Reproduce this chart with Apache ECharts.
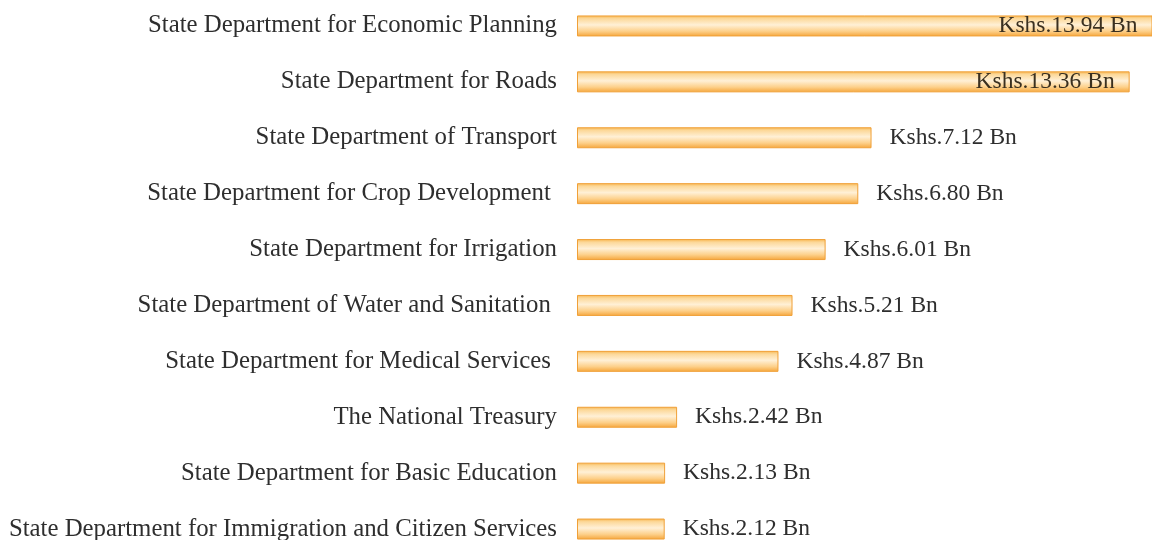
<!DOCTYPE html>
<html>
<head>
<meta charset="utf-8">
<script src="https://cdn.jsdelivr.net/npm/echarts@6/dist/echarts.min.js"></script>
<style>
  html, body { margin: 0; padding: 0; background: #fff; overflow: hidden; }
  #chart { width: 1152px; height: 559px; margin-top: -2px; }
</style>
</head>
<body>
<div id="chart"></div>
<script>
// departments, top to bottom
var departments = [
    'State Department for Economic Planning',
    'State Department for Roads',
    'State Department of Transport',
    'State Department for Crop Development ',
    'State Department for Irrigation',
    'State Department of Water and Sanitation ',
    'State Department for Medical Services ',
    'The National Treasury',
    'State Department for Basic Education',
    'State Department for Immigration and Citizen Services'
];
// amounts in Kshs billion
var amounts = [13.94, 13.36, 7.12, 6.80, 6.01, 5.21, 4.87, 2.42, 2.13, 2.12];
var valueLabels = ['Kshs.13.94 Bn', 'Kshs.13.36 Bn', 'Kshs.7.12 Bn', 'Kshs.6.80 Bn', 'Kshs.6.01 Bn',
    'Kshs.5.21 Bn', 'Kshs.4.87 Bn', 'Kshs.2.42 Bn', 'Kshs.2.13 Bn', 'Kshs.2.12 Bn'];

var serif = '"Liberation Serif", "DejaVu Serif", serif';

var barFill = new echarts.graphic.LinearGradient(0, 0, 0, 1, [
    {offset: 0, color: '#f7b54e'},
    {offset: 0.15, color: '#fcd899'},
    {offset: 0.45, color: '#fff0d6'},
    {offset: 0.75, color: '#fdd08a'},
    {offset: 1, color: '#f5a53a'}
]);

var chart = echarts.init(document.getElementById('chart'));
chart.setOption({
    animation: false,
    backgroundColor: '#fff',
    grid: {left: 577, right: 0, top: 0, bottom: 0},
    xAxis: {
        type: 'value',
        min: 0,
        max: 13.9,
        show: false
    },
    yAxis: {
        type: 'category',
        inverse: true,
        data: departments,
        axisLine: {show: false},
        axisTick: {show: false},
        axisLabel: {
            margin: 20,
            color: '#2e2e2e',
            fontFamily: serif,
            fontSize: 24.8
        }
    },
    series: [{
        type: 'bar',
        barWidth: 21,
        data: amounts.map(function (v, i) {
            var inside = i < 2;
            return {
                value: v,
                label: {
                    show: true,
                    position: inside ? 'insideRight' : 'right',
                    distance: inside ? 15 : 18,
                    formatter: valueLabels[i],
                    color: inside ? '#3a3020' : '#2e2e2e',
                    fontFamily: serif,
                    fontSize: 23.5
                }
            };
        }),
        itemStyle: {
            color: barFill,
            borderColor: '#f0a038',
            borderWidth: 1
        }
    }]
});
</script>
</body>
</html>
